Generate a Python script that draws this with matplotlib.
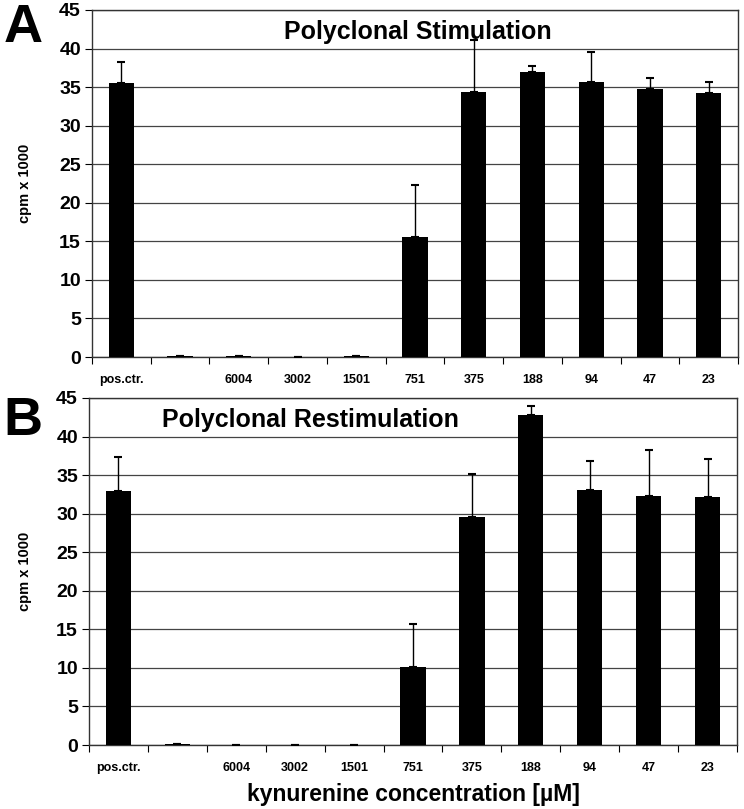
import numpy as np
import matplotlib
matplotlib.use("Agg")
from matplotlib import pyplot as plt

plt.rcParams["font.family"] = ["Liberation Sans", "DejaVu Sans"]

categories = ["pos.ctr.", "", "6004", "3002", "1501", "751", "375", "188", "94", "47", "23"]

# panel A: polyclonal stimulation (mean, upper error end)
stim_mean = [35.5, 0.1, 0.1, 0.05, 0.15, 15.6, 34.4, 36.9, 35.6, 34.8, 34.3]
stim_top = [38.3, 0.1, 0.1, 0.05, 0.15, 22.3, 41.1, 37.8, 39.6, 36.2, 35.7]

# panel B: polyclonal restimulation
restim_mean = [33.0, 0.15, 0.05, 0.05, 0.05, 10.1, 29.6, 42.8, 33.1, 32.3, 32.1]
restim_top = [37.3, 0.15, 0.05, 0.05, 0.05, 15.7, 35.2, 44.0, 36.8, 38.2, 37.1]


def draw_panel(ax, means, tops, title, title_x, ylab_x):
    x = np.arange(len(categories))
    means = np.array(means)
    err = np.array(tops) - means
    ax.bar(x, means, width=0.43, color="black", zorder=3)
    ax.errorbar(x, means, yerr=[np.zeros_like(err), err], fmt="none",
                ecolor="black", elinewidth=1, capsize=3, capthick=1.5, zorder=4)
    ax.set_ylim(0, 45)
    ax.set_xlim(-0.5, len(categories) - 0.5)
    ax.set_yticks(np.arange(0, 46, 5))
    ax.yaxis.grid(True, color="#444444", linewidth=0.9, zorder=0)
    ax.set_axisbelow(True)
    ax.set_xticks(np.arange(-0.5, len(categories)), minor=False)
    ax.set_xticklabels([])
    ax.set_xticks(x, minor=True)
    ax.set_xticklabels(categories, minor=True, fontsize=9, fontweight="bold")
    ax.tick_params(axis="x", which="major", direction="out", length=5)
    ax.tick_params(axis="x", which="minor", length=0, pad=12)
    ax.tick_params(axis="y", direction="out", length=5, labelsize=14, pad=3)
    for lab in ax.get_yticklabels():
        lab.set_fontweight("bold")
    for s in ax.spines.values():
        s.set_color("#333333")
        s.set_linewidth(1)
    ax.set_ylabel("cpm x 1000", fontsize=10.5, fontweight="bold")
    ax.yaxis.set_label_coords(ylab_x, 0.5)
    ax.text(title_x, 0.937, title, transform=ax.transAxes, ha="center", va="center",
            fontsize=18, fontweight="bold")


fig = plt.figure(figsize=(7.44, 8.09), dpi=100)
ax_a = fig.add_axes([92 / 744, 1 - 357 / 809, 646 / 744, 347 / 809])
ax_b = fig.add_axes([89 / 744, 1 - 745 / 809, 648 / 744, 347 / 809])

draw_panel(ax_a, stim_mean, stim_top, "Polyclonal Stimulation", 0.505, -0.093)
draw_panel(ax_b, restim_mean, restim_top, "Polyclonal Restimulation", 0.341, -0.088)

ax_b.set_xlabel("kynurenine concentration [\u00b5M]", fontsize=16.5, fontweight="bold", labelpad=7)

fig.text(23 / 744, 1 - 28 / 809, "A", fontsize=39, fontweight="bold", ha="center", va="center")
fig.text(23 / 744, 1 - 421 / 809, "B", fontsize=39, fontweight="bold", ha="center", va="center")

plt.savefig("out.png", dpi=100)
plt.close()
